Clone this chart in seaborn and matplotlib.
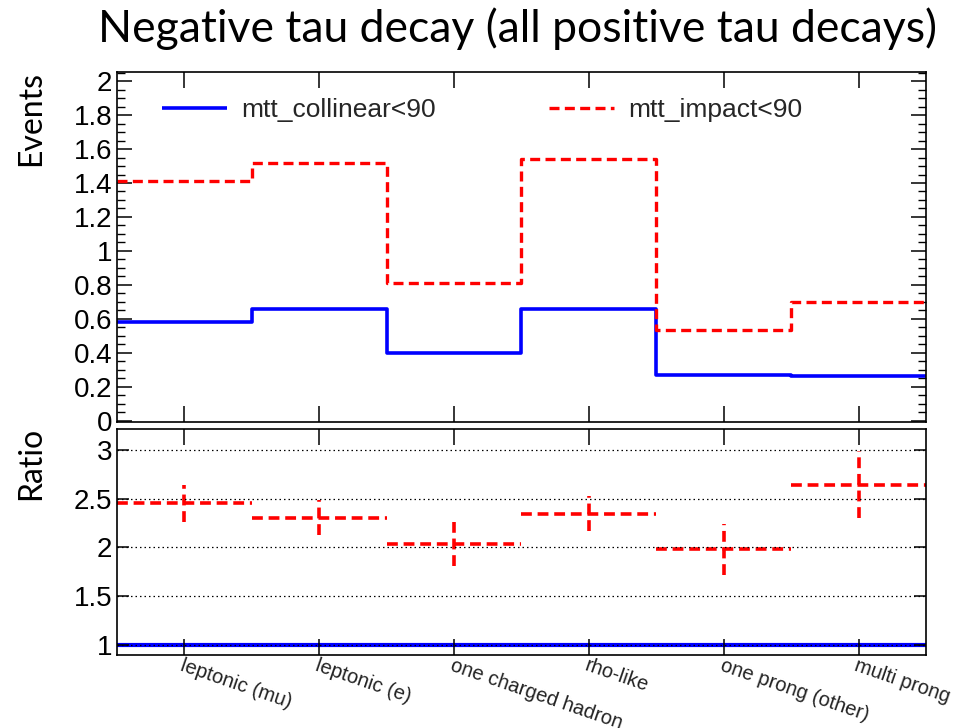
import numpy as np
import pandas as pd
import matplotlib
matplotlib.use("Agg")
import matplotlib.pyplot as plt
import seaborn as sns
from matplotlib.ticker import MultipleLocator, FormatStrFormatter

# ---------------- data ----------------
categories = ["leptonic (mu)", "leptonic (e)", "one charged hadron",
              "rho-like", "one prong (other)", "multi prong"]
collinear = [0.58, 0.66, 0.40, 0.66, 0.27, 0.265]
impact = [1.41, 1.52, 0.81, 1.54, 0.535, 0.70]
ratio_collinear = [1.0, 1.0, 1.0, 1.0, 1.0, 1.0]
ratio_impact = [2.455, 2.305, 2.035, 2.345, 1.98, 2.645]
ratio_impact_err = [0.19, 0.18, 0.23, 0.18, 0.26, 0.34]
label_collinear = "mtt_collinear<90"
label_impact = "mtt_impact<90"
title = "Negative tau decay (all positive tau decays)"

# ---------------- style ----------------
sns.set_theme(style="ticks")
plt.rcParams["font.family"] = ["Liberation Sans", "DejaVu Sans"]
plt.rcParams["axes.linewidth"] = 1.2
plt.rcParams["lines.solid_capstyle"] = "butt"
plt.rcParams["lines.dash_capstyle"] = "butt"

fig = plt.figure(figsize=(9.56, 7.28), dpi=100)
ax1 = fig.add_axes([117 / 956, 1 - 422 / 728, 809 / 956, 350 / 728])
ax2 = fig.add_axes([117 / 956, 1 - 655 / 728, 809 / 956, 226 / 728])

n = len(categories)
pos = np.arange(n)
edges = np.arange(n + 1) - 0.5

def steps(vals):
    return pd.DataFrame({"x": edges, "y": list(vals) + [vals[-1]]})

red_dash = (0, (3.0, 1.6))

# ---------------- top panel ----------------
d = steps(collinear)
sns.lineplot(data=d, x="x", y="y", ax=ax1, color="#0000ff", lw=2.6,
             drawstyle="steps-post", label=label_collinear)
d = steps(impact)
sns.lineplot(data=d, x="x", y="y", ax=ax1, color="#ff0000", lw=2.4,
             drawstyle="steps-post", linestyle=red_dash, label=label_impact)

ax1.set_xlim(-0.5, n - 0.5)
ax1.set_ylim(-0.006, 2.053)
ax1.set_xticks(pos)
ax1.set_xticklabels([])
ax1.yaxis.set_major_locator(MultipleLocator(0.2))
ax1.yaxis.set_minor_locator(MultipleLocator(0.05))
ax1.yaxis.set_major_formatter(FormatStrFormatter("%g"))
ax1.tick_params(axis="x", which="major", direction="in", length=11.5,
                width=1.1, top=True, bottom=True, color="black")
ax1.tick_params(axis="y", which="major", direction="in", length=11,
                width=1.1, left=True, right=True, labelsize=20, pad=3.5,
                color="black", labelcolor="black")
ax1.tick_params(axis="y", which="minor", direction="in", length=5.5,
                width=1.0, left=True, right=True, color="black")
ax1.set_xlabel("")
ax1.set_ylabel("")
for s in ax1.spines.values():
    s.set_color("black")

ax1.legend(loc="center left", bbox_to_anchor=(0.0556, 0.891), ncol=2,
           frameon=False, fontsize=19, handlelength=2.45, handletextpad=0.55,
           columnspacing=4.3, borderpad=0, borderaxespad=0)

# ---------------- ratio panel ----------------
d = steps(ratio_collinear)
sns.lineplot(data=d, x="x", y="y", ax=ax2, color="#0000ff", lw=3.0,
             drawstyle="steps-post", legend=False)
eb = ax2.errorbar(pos, ratio_impact, xerr=0.5, yerr=ratio_impact_err,
                  fmt="none", ecolor="#ff0000", elinewidth=2.6, capsize=0)
for lc in eb[2]:
    lc.set_linestyle((0, (3.0, 1.6)))

ax2.set_xlim(-0.5, n - 0.5)
ax2.set_ylim(0.897, 3.215)
ax2.set_yticks([1, 1.5, 2, 2.5, 3])
ax2.yaxis.set_major_formatter(FormatStrFormatter("%g"))
ax2.grid(axis="y", color="black", linestyle=(0, (1.2, 2.4)), linewidth=0.9)
ax2.set_axisbelow(False)
ax2.set_xticks(pos)
ax2.set_xticklabels(categories, rotation=-19, ha="left", va="top",
                    rotation_mode="anchor", fontsize=14.5)
ax2.tick_params(axis="x", which="major", direction="in", length=11.5,
                width=1.1, top=True, bottom=True, pad=0.5, color="black",
                labelcolor="#222222")
ax2.tick_params(axis="y", which="major", direction="in", length=8.5,
                width=1.1, left=True, right=True, labelsize=20, pad=3.5,
                color="black", labelcolor="black")
ax2.set_xlabel("")
ax2.set_ylabel("")
for s in ax2.spines.values():
    s.set_color("black")

# ---------------- titles ----------------
fig.text(517 / 956, 1 - 42 / 728, title, ha="center", va="baseline",
         fontsize=32, family=["Lato", "DejaVu Sans"], color="black")
fig.text(31 / 956, 1 - 71 / 728, "Events", rotation=90, ha="center",
         va="top", fontsize=23, family=["Lato", "DejaVu Sans"], color="black")
fig.text(31 / 956, 1 - 427 / 728, "Ratio", rotation=90, ha="center",
         va="top", fontsize=23, family=["Lato", "DejaVu Sans"], color="black")

fig.savefig("out.png", dpi=100)
